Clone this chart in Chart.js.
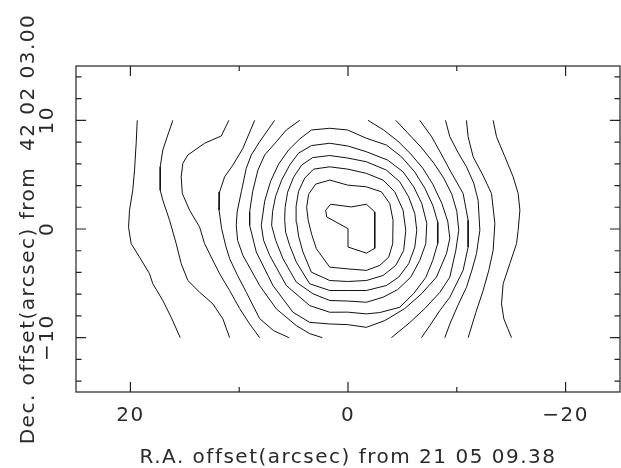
<!DOCTYPE html>
<html><head><meta charset="utf-8">
<script src="https://cdn.jsdelivr.net/npm/chart.js@4/dist/chart.umd.min.js"></script>
<style>html,body{margin:0;padding:0;background:#fff;overflow:hidden}canvas{display:block}</style>
</head><body>
<canvas id="c" width="621" height="468"></canvas>
<script>
// ---- axis ticks and titles ----
const xTickValues = [20, 10, 0, -10, -20];
const xTickLabels = ['20', '', '0', '', '\u221220'];
const yTickValues = [-14, -12, -10, -8, -6, -4, -2, 0, 2, 4, 6, 8, 10, 12, 14];
const yTickLabels = ['', '', '\u221210', '', '', '', '', '0', '', '', '', '', '10', '', ''];
const xTitle = 'R.A. offset(arcsec) from 21 05 09.38';
const yTitle = 'Dec. offset(arcsec) from  42 02 03.00';

// ---- contour polylines (arcsec offsets) ----
// open contours, left side
const L1x = [19.37,19.47,19.62,19.78,20.08,20.17,19.93,19.16,18.24,17.94,17.02,16.25,15.42];
const L1y = [10,7.89,5.42,3.57,1.73,0.16,-1.35,-2.59,-4.12,-5.04,-6.58,-8.13,-10];
const L2x = [16.10,16.56,17.02,17.26,17.26,17.02,16.40,15.79,15.33,14.72,13.64,12.42,11.50,10.88];
const L2y = [10,8.65,7.27,5.72,3.57,2.65,0.80,-1.35,-3.19,-4.74,-5.82,-6.89,-8.27,-10];
const L3x = [10.95,11.65,13.18,14.72,15.18,15.33,15.23,14.56,13.64,13.18,12.57,11.80,10.88,9.96,9.04,8.12];
const L3y = [10,8.56,7.89,6.81,6.04,4.80,3.27,1.73,0.18,-1.35,-2.59,-4.12,-5.66,-7.32,-8.74,-10];
const L4x = [8.58,9.66,10.58,11.34,11.80,11.85,11.62,11.25,10.88,10.15,9.35,8.12,6.84,5.43];
const L4y = [10,7.42,5.88,4.80,3.42,1.73,0.06,-1.51,-2.73,-4.28,-5.82,-8.25,-9.35,-10];
const L5x = [6.74,8.12,8.89,9.35,9.81,10.19,10.27,10.15,9.66,8.12,6.59,4.75,3.52,2.36];
const L5y = [10,8.03,6.81,5.58,3.42,1.57,0.34,-1.04,-2.43,-5.20,-7.35,-8.89,-9.63,-10];
// U-shaped contour open at the top
const Ux = [4.44,5.67,6.59,7.66,8.28,8.77,9.04,9.04,8.43,6.90,5.06,3.52,1.68,0.03,-1.69,-3.38,-5.22,-6.78,-8.13,-9.05,-9.36,-9.17,-8.62,-7.79,-6.87,-5.77,-4.57,-3.28,-1.84];
const Uy = [10,9.11,8.03,6.81,5.42,3.42,1.57,0.34,-2.12,-5.20,-7.66,-8.59,-8.74,-8.80,-9.05,-8.43,-7.32,-5.94,-4.43,-2.27,-0.86,0.71,2.37,4.13,5.60,6.90,8.10,9.11,10];
// closed contours, outer to inner
const C5x = [1.68,0.03,-1.69,-3.53,-4.94,-6.14,-7.06,-7.79,-8.25,-8.25,-7.79,-7.15,-6.04,-4.76,-2.92,-1.69,0.03,1.68,3.52,5.67,7.20,7.76,7.97,7.66,7.11,6.38,5.46,4.44,3.37,1.68];
const C5y = [9.27,9.11,8.35,7.73,6.62,5.24,3.76,2.19,0.62,-1.32,-2.89,-4.46,-5.94,-7.20,-7.69,-7.81,-7.65,-7.66,-7.05,-5.20,-2.43,-1.04,0.34,2.56,4.40,5.97,7.27,8.28,9.11,9.27];
const C4x = [1.68,0.03,-1.69,-3.65,-5.06,-6.04,-6.78,-7.24,-7.15,-6.60,-5.77,-4.57,-3.22,-1.69,0.03,1.68,3.22,4.75,5.98,6.65,7.02,6.93,6.65,6.10,5.36,4.54,3.34,1.68];
const C4y = [7.89,7.64,7.11,6.34,5.26,3.88,2.35,0.53,-1.35,-2.89,-4.43,-5.57,-6.28,-6.74,-6.63,-6.58,-5.96,-4.89,-2.73,-1.04,0.34,1.63,3.02,4.50,5.88,6.99,7.68,7.89];
const C3x = [1.68,0.03,-1.69,-3.53,-4.76,-5.58,-6.14,-6.32,-6.14,-5.58,-4.66,-3.53,-1.69,0.03,1.68,3.52,4.75,5.36,5.73,5.82,5.78,5.55,5.00,4.26,3.25,1.68];
const C3y = [6.76,6.53,6.19,5.42,4.34,2.95,1.42,-0.12,-1.66,-3.19,-4.43,-5.20,-5.66,-5.66,-5.66,-5.04,-3.05,-1.51,-0.30,0.80,2.00,3.39,4.77,5.88,6.57,6.76];
const C2x = [1.68,0.03,-1.69,-3.22,-4.30,-5.06,-5.31,-5.12,-4.39,-3.22,-1.69,0.03,1.68,3.37,4.14,4.54,4.72,4.77,4.54,3.98,3.16,1.68];
const C2y = [5.72,5.51,5.12,4.50,3.42,1.73,-0.12,-1.97,-3.35,-4.28,-4.74,-4.83,-4.74,-3.97,-2.12,-0.67,0.62,2.10,3.48,4.68,5.51,5.72];
const C1x = [1.68,0.03,-1.69,-3.07,-3.84,-4.14,-4.11,-3.74,-2.92,-1.69,0.03,1.68,2.91,3.34,3.66,3.80,3.62,2.97,1.68];
const C1y = [4.50,4.04,3.88,3.42,2.35,0.80,-1.35,-2.59,-3.35,-3.81,-3.67,-3.51,-1.81,-0.49,0.80,2.00,3.20,4.13,4.50];
const C0x = [1.59,-0.31,-1.69,-2.46,-2.46,-1.69,0.00,0.00,1.96,2.05,1.59];
const C0y = [2.28,2.03,2.28,1.57,-1.78,-2.22,-1.66,0.04,1.11,1.73,2.28];
// open contours, right side
const R5x = [-4.39,-5.58,-6.78,-7.88,-8.80,-9.54,-10.00,-10.18,-9.91,-9.36,-8.44,-7.06,-5.68,-3.99];
const R5y = [10,8.74,7.45,6.07,4.68,3.20,1.63,-0.12,-1.97,-4.43,-5.84,-7.32,-8.61,-10];
const R4x = [-6.60,-7.70,-8.62,-9.36,-10.58,-11.04,-11.04,-10.58,-9.36,-8.44,-7.52,-6.75];
const R4y = [10,8.47,6.81,5.42,3.27,0.80,-1.66,-3.81,-6.28,-7.51,-8.89,-10];
const R3x = [-8.96,-9.36,-10.09,-10.89,-11.56,-11.96,-12.12,-11.81,-11.38,-10.89,-10.09,-9.36,-8.90];
const R3y = [10,8.49,7.08,5.72,4.22,2.65,-0.12,-2.27,-3.81,-5.36,-7.05,-8.74,-10];
const R2x = [-10.89,-11.04,-11.50,-12.39,-13.19,-13.50,-13.34,-12.94,-12.42,-11.75,-11.04];
const R2y = [10,8.49,6.65,4.96,3.27,0.50,-1.97,-3.81,-5.66,-7.69,-10];
const R1x = [-13.34,-13.65,-14.42,-15.18,-15.64,-15.80,-15.64,-15.49,-14.88,-14.26,-14.11,-14.32,-14.69,-15.03];
const R1y = [10,8.49,6.65,4.80,3.27,1.73,-0.12,-1.35,-3.17,-5.04,-6.89,-8.25,-9.17,-10];

const contours = [
  [L1x,L1y],[L2x,L2y],[L3x,L3y],[L4x,L4y],[L5x,L5y],[Ux,Uy],
  [C5x,C5y],[C4x,C4y],[C3x,C3y],[C2x,C2y],[C1x,C1y],[C0x,C0y],
  [R5x,R5y],[R4x,R4y],[R3x,R3y],[R2x,R2y],[R1x,R1y]
];

const FONT = '"DejaVu Sans", "Liberation Sans", sans-serif';
const TEXT = '#2a2a2a';

const datasets = contours.map(([xs, ys]) => ({
  data: xs.map((x, i) => ({x: x, y: ys[i]})),
  showLine: true, fill: false, tension: 0,
  borderColor: '#111', borderWidth: 1, pointRadius: 0, pointHoverRadius: 0
}));

const framePlugin = {
  id: 'frame',
  beforeDraw(chart) { chart.ctx.letterSpacing = '1.5px'; },
  afterDraw(chart) {
    const {ctx, chartArea: a, scales: {x, y}} = chart;
    ctx.save();
    ctx.strokeStyle = '#222';
    ctx.lineWidth = 1.2;
    ctx.strokeRect(a.left, a.top, a.right - a.left, a.bottom - a.top);
    ctx.beginPath();
    xTickValues.forEach((v, i) => {
      const p = x.getPixelForValue(v);
      const len = xTickLabels[i] ? 10 : 5;
      ctx.moveTo(p, a.bottom); ctx.lineTo(p, a.bottom - len);
      ctx.moveTo(p, a.top); ctx.lineTo(p, a.top + len);
    });
    yTickValues.forEach((v, i) => {
      const p = y.getPixelForValue(v);
      const len = yTickLabels[i] ? 10 : 5.5;
      ctx.moveTo(a.left, p); ctx.lineTo(a.left + len, p);
      ctx.moveTo(a.right, p); ctx.lineTo(a.right - len, p);
    });
    ctx.stroke();
    ctx.fillStyle = TEXT;
    ctx.letterSpacing = '1.5px';
    ctx.font = '20px ' + FONT;
    ctx.textAlign = 'center';
    ctx.textBaseline = 'middle';
    // rotated y tick labels, placed through the y scale
    yTickValues.forEach((v, i) => {
      if (!yTickLabels[i]) return;
      ctx.save();
      ctx.translate(a.left - 28.5, y.getPixelForValue(v));
      ctx.rotate(-Math.PI / 2);
      ctx.fillText(yTickLabels[i], 0, 0);
      ctx.restore();
    });
    // axis titles
    ctx.fillText(xTitle, (a.left + a.right) / 2, a.bottom + 66);
    ctx.translate(28.5, (a.top + a.bottom) / 2);
    ctx.rotate(-Math.PI / 2);
    ctx.fillText(yTitle, 0, 0);
    ctx.restore();
  }
};

new Chart(document.getElementById('c'), {
  type: 'scatter',
  data: {datasets},
  options: {
    responsive: false, animation: false, devicePixelRatio: 1, events: [],
    layout: {padding: {top: 66, right: 1, left: 0, bottom: 0}},
    plugins: {legend: {display: false}, tooltip: {enabled: false}},
    scales: {
      x: {
        type: 'linear', min: -25, max: 25, reverse: true,
        afterBuildTicks: s => { s.ticks = xTickValues.map(v => ({value: v})); },
        afterFit: s => { s.height = 76; },
        grid: {display: false, drawTicks: false},
        border: {display: false},
        ticks: {padding: 12, color: TEXT, autoSkip: false, maxRotation: 0,
          font: {family: FONT, size: 20},
          callback: (v, i) => xTickLabels[i]}
      },
      y: {
        type: 'linear', min: -15, max: 15,
        afterBuildTicks: s => { s.ticks = yTickValues.map(v => ({value: v})); },
        afterFit: s => { s.width = 76; },
        grid: {display: false, drawTicks: false},
        border: {display: false},
        ticks: {display: false}
      }
    }
  },
  plugins: [framePlugin]
});
</script>
</body></html>
